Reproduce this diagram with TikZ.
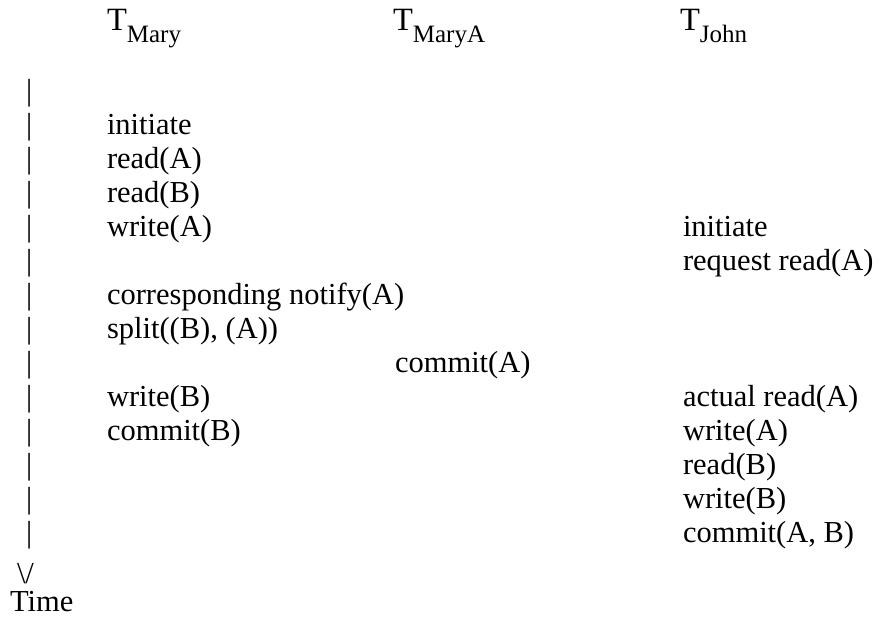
\documentclass[tikz,border=0pt]{standalone}
\usepackage{fontspec}
\setmainfont{Liberation Serif}
\tikzset{
  txt/.style={anchor=base west, inner sep=0pt, outer sep=0pt, font=\fontsize{30.5}{30.5}\selectfont},
  ttl/.style={anchor=base west, inner sep=0pt, outer sep=0pt, font=\fontsize{32.5}{32.5}\selectfont},
}
\newcommand{\subsc}[1]{\raisebox{-11pt}{\fontsize{25}{25}\selectfont #1}}
\begin{document}
\begin{tikzpicture}[x=1pt,y=-1pt]
\useasboundingbox (0,0) rectangle (882,618);
% titles
\node[ttl] (hmary) at (107,31) {T\subsc{Mary}};
\node[ttl] (hmarya) at (393,31) {T\subsc{MaryA}};
\node[ttl] (hjohn) at (680,31) {T\subsc{John}};
% time axis bars
\foreach \k in {0,...,13} {
  \node[txt] (bar\k) at (26,{100+34*\k}) {|};
}
\node[txt] (arrowv) at (17,583) {\textbackslash/};
\node[txt] (time) at (10,611) {Time};
% Mary column
\node[txt] (m1) at (107,134) {initiate};
\node[txt] (m2) at (107,168) {read(A)};
\node[txt] (m3) at (107,202) {read(B)};
\node[txt] (m4) at (107,236) {write(A)};
\node[txt] (m6) at (107,304) {corresponding notify(A)};
\node[txt] (m7) at (107,338) {split((B), (A))};
\node[txt] (m9) at (107,406) {write(B)};
\node[txt] (m10) at (107,440) {commit(B)};
% MaryA column
\node[txt] (a8) at (395,372) {commit(A)};
% John column
\node[txt] (j4) at (683,236) {initiate};
\node[txt] (j5) at (683,270) {request read(A)};
\node[txt] (j9) at (683,406) {actual read(A)};
\node[txt] (j10) at (683,440) {write(A)};
\node[txt] (j11) at (683,474) {read(B)};
\node[txt] (j12) at (683,508) {write(B)};
\node[txt] (j13) at (683,542) {commit(A, B)};
\end{tikzpicture}
\end{document}
